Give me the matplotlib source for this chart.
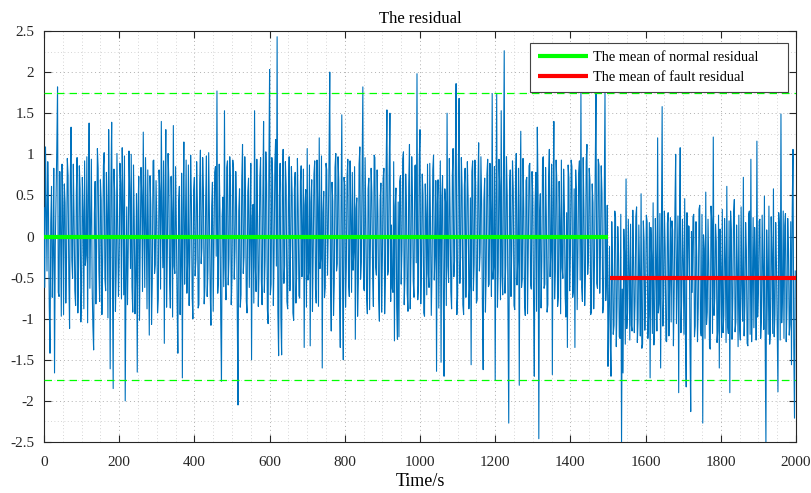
import numpy as np
import matplotlib
matplotlib.use("Agg")
import matplotlib.pyplot as plt
from matplotlib.ticker import MultipleLocator, FuncFormatter

# ---- data (one sample every 2 s) ----
residual = [
    0.35, -0.62, 1.09, 0.38, -0.42, 0.91, 0.28, -0.85, -1.42, 0.17, 0.61, -0.74, -0.18, 0.83, -1.66, -0.12, 0.47, 1.05, 1.82, -0.68, -0.73, 0.79, 0.12, -0.97, 0.88, 0.36, -0.95, 0.64, 0.41, -0.81, -0.26, 0.95, 0.74, -0.48, -1.12, 0.71, 1.33, -0.29, -0.51, 0.88, 0.22, -0.66, -0.84, 0.53, 0.96, -0.93, -0.37, 0.86, 0.58, -1.04,
    -0.64, 0.72, 0.31, -0.88, 0.92, -0.35, -0.23, 0.97, -1.05, 0.46, 1.38, -0.63, 0.15, 0.94, -0.58, -1.09, -1.38, 0.28, 0.67, -0.82, -0.12, 1.07, 0.83, -0.41, -0.79, 0.69, 0.44, -0.95, -0.31, 0.86, 1.02, -0.52, -0.66, 0.78, 0.25, -0.99, 1.3, 0.21, -1.61, 0.64, 1.39, -0.47, -1.85, 0.82, 0.53, -0.91, -0.44, 1.01, 0.19, -0.73,
    -0.28, 0.89, 0.64, -0.76, 1.08, 0.43, -0.71, 0.98, -2.0, -0.57, 0.36, -0.83, -0.15, 1.04, 0.58, -0.39, 1.0, -0.61, -0.92, 0.87, 0.21, -0.94, -0.47, 0.52, -1.65, 0.31, 0.73, -1.02, -0.08, 0.84, 0.49, -0.67, 1.27, 0.18, -0.62, 0.96, 0.14, -0.88, 0.81, -0.26, -1.2, 0.74, 0.38, -1.07, -0.55, 0.92, 0.93, -0.45, -0.34, 0.68,
    0.17, -0.93, -0.76, 0.81, 0.55, -0.64, 1.4, 0.27, -0.38, 0.92, -1.3, 0.48, 1.3, -0.86, -0.21, 1.01, 0.68, -0.54, -0.87, 0.73, 0.29, -0.98, 1.35, -0.36, -0.45, 0.85, 0.12, -0.79, -1.42, 0.42, 0.61, -0.95, -0.33, 0.77, -1.72, 0.39, 1.15, -0.58, 0.06, 0.93, -0.69, -0.31, 0.87, -0.84, -0.18, 0.99, 0.45, -0.72, -1.0, 0.56,
    0.72, -0.48, -0.27, 0.91, 0.39, -0.87, -0.83, 0.64, 1.05, -0.33, -0.14, 0.96, 0.57, -0.82, -0.61, 0.45, 0.98, -0.73, -0.42, 1.02, 0.24, -0.66, -1.08, 0.37, 0.66, -0.91, -0.09, 0.78, 0.85, -0.24, 1.77, -0.69, -0.54, 0.88, 0.31, -0.97, -1.76, 0.26, 0.48, -0.61, 1.53, -0.38, -0.77, 0.84, 0.92, -0.59, -0.26, 0.97, 0.63, -0.83,
    -0.49, 0.93, 0.84, -0.52, -0.16, 0.79, 0.37, -0.94, -2.05, 0.31, 0.58, -0.86, -0.71, 0.68, 1.12, -0.45, -0.24, 0.97, 0.46, -0.78, -0.93, 0.54, 0.71, -0.62, 0.05, 0.89, -1.5, 0.24, 0.39, -0.81, 1.53, -0.37, -0.67, 0.94, 0.22, -0.85, -0.41, 0.72, 0.96, -0.53, -0.83, 0.46, 1.4, -0.68, -0.29, 1.03, 0.64, -0.88, -1.06, 0.77,
    2.03, -0.71, -0.58, 0.96, 0.74, -0.84, -0.21, 0.88, 1.18, -0.36, 2.43, -0.92, -1.45, 0.47, 0.89, -0.98, -1.44, 0.63, 1.06, -0.57, -0.35, 0.91, 0.62, -0.79, -0.88, 0.43, 0.97, -0.66, -0.12, 0.85, 0.51, -0.93, -1.02, 0.58, 0.78, -0.81, -0.46, 0.95, 0.33, -0.72, -0.75, 0.67, 0.86, -0.49, 0.11, 0.82, -1.35, 0.38, 0.57, -0.86,
    1.07, -0.53, -0.44, 0.87, -1.33, 0.42, 0.69, -0.91, -0.18, 0.76, 0.92, -0.64, -0.81, 0.93, 0.36, -0.85, 1.2, -0.39, -0.27, 0.98, -1.6, 0.29, 0.55, -0.74, -0.62, 0.89, 0.81, -0.47, 0.07, 0.94, 2.0, -0.58, -1.15, 0.66, 0.43, -0.96, -0.57, 0.84, 1.01, -0.42, -0.33, 0.97, 0.68, -0.79, -1.35, 0.31, 1.48, -0.61, -1.5, 0.72,
    0.62, -0.86, -0.38, 0.73, 0.94, -0.57, -0.73, 0.92, 0.25, -0.68, 0.78, -0.41, -0.19, 0.85, -1.25, 0.34, 0.47, -0.97, -0.56, 0.88, 1.09, -0.52, -0.31, 0.79, 1.82, -0.63, -0.66, 0.96, 0.18, -0.74, -0.94, 0.58, 0.71, -0.89, -0.12, 0.83, 0.53, -0.46, -0.85, 0.99, 0.96, -0.37, -0.47, 0.81, 0.28, -0.76, -1.03, 0.44, 0.65, -0.92,
    -0.26, 0.71, 0.83, -0.94, -0.52, 0.88, 1.54, -0.47, -0.41, 0.82, 1.5, -0.79, 0.14, -0.63, -0.68, 0.91, -1.27, 0.37, 0.59, -0.86, -1.25, 0.42, -1.22, 0.67, 0.74, -0.58, -0.17, 0.94, 1.03, -0.83, -0.49, 0.76, 0.36, -0.69, -0.91, 0.62, 1.12, -0.88, -0.23, 0.97, 0.48, -0.54, -0.74, 0.86, 0.87, -0.32, 1.98, -0.77, -0.6, 0.93,
    1.3, -0.82, -0.35, 0.76, 0.51, -0.93, -0.97, 0.64, 0.27, -0.71, 0.88, -0.45, -0.62, 0.89, 0.15, -0.96, -0.43, 0.81, 0.99, -0.53, -0.21, 0.68, -1.64, 0.39, 0.69, -0.87, 0.08, 0.92, -1.53, 0.47, 0.74, -0.73, -1.7, 0.58, 0.42, -0.84, 1.5, -0.36, -0.56, 0.95, 0.31, -0.67, -0.88, 0.73, 1.07, -0.49, -0.29, 0.88, 1.86, -0.95,
    -0.72, 0.84, 1.68, -0.57, -0.24, 0.96, 0.57, -0.83, -0.95, 0.62, 0.83, -0.74, -0.08, 0.91, 0.46, -0.88, -0.61, 0.47, -1.56, 0.79, 0.92, -0.66, -0.34, 0.93, 0.63, -0.81, -0.77, 0.58, 1.14, -0.42, -0.19, 0.97, 0.38, -0.85, -1.62, 0.44, 0.71, -0.92, -0.46, 0.76, 0.94, -0.61, -0.58, 0.89, 0.26, -0.73, 1.74, -0.52, -0.37, 0.85,
    -1.75, 0.39, 1.74, -0.86, -0.43, 0.94, 0.62, -0.77, 1.53, -0.48, -0.71, 0.88, 2.26, -0.69, -0.35, 0.97, 0.49, -0.91, -2.27, 0.56, 0.81, -0.73, -0.16, 0.92, 0.57, -0.84, -0.89, 0.67, 1.01, -0.59, -0.28, 0.83, -1.81, 0.31, 1.28, -0.62, -0.52, 0.95, 0.34, -0.81, -0.96, 0.68, 0.72, -0.94, -0.13, 0.86, 0.89, -0.57, -0.64, 0.79,
    0.46, -0.78, -1.7, 0.36, 0.78, -0.91, 1.33, 0.54, -2.46, 0.28, 0.52, -0.87, -0.31, 0.95, 0.97, -0.63, -0.58, 0.84, 0.24, -0.92, -0.83, 0.72, 1.06, -0.49, -0.15, 0.88, -1.68, 0.41, 1.4, -0.76, -0.42, 0.93, 0.66, -0.85, -0.74, 0.67, 0.19, -0.94, 0.93, -0.38, -0.51, 0.82, 0.37, -0.71, -0.98, 0.29, -1.35, 0.87, 0.71, -0.66,
    -0.22, 0.93, 0.85, -0.74, -0.67, 0.58, -1.35, 0.81, 0.54, -0.89, -0.18, 0.77, 0.92, -0.53, 1.75, -0.62, -0.79, 0.96, 0.33, -0.84, -0.47, 0.91, 1.12, -0.46, -0.26, 0.83, 0.68, -0.95, -0.91, 0.64, 0.41, -0.88, -0.36, 0.79, 1.75, -0.57, -0.63, 0.94, 0.87, -0.69, -0.14, 0.86, 0.52, -0.93, -0.85, 0.45, 1.76, -0.78, -0.48, 0.38,
    -1.58, -0.91, -0.12, -1.27, -1.7, 0.18, -0.35, -1.19, -1.08, 0.31, 0.24, -1.34, -0.86, 0.12, -0.21, -1.22, -1.24, 0.27, -2.55, -0.64, -1.66, 0.09, -0.18, -1.31, 0.7, -1.12, -0.93, 0.21, -0.41, -1.26, 0.15, -1.08, -1.15, 0.32, -0.28, -1.17, -0.79, 0.24, 0.36, -1.29, -1.02, 0.14, -0.47, -1.21, 0.52, -1.36, -1.31, 0.19, -0.06, -1.14,
    -0.64, 0.26, 0.18, -1.24, -0.97, 0.17, -1.72, 0.11, -0.23, -1.18, 0.41, -1.32, -1.13, 0.22, -0.36, -1.15, 1.2, -0.93, -0.82, 0.28, -1.6, 0.04, 1.58, -1.09, -0.71, 0.31, -0.14, -1.27, -1.28, 0.16, 0.29, -1.21, -0.55, 0.23, -1.04, 0.19, 0.07, -1.33, -0.68, 0.34, 1.0, -1.06, -0.43, 0.25, -1.9, 0.08, 1.08, -1.17, -0.76, 0.21,
    -0.31, -1.19, 0.46, -1.26, -1.83, 0.29, -0.52, 0.13, 0.12, -1.31, -2.13, 0.06, -0.68, 0.24, 0.27, -1.22, -1.09, 0.18, -0.24, -1.28, -0.87, 0.33, 0.38, -1.14, -1.21, 0.27, -2.27, 0.02, -0.15, -1.24, 0.54, -1.07, -0.92, 0.21, -0.33, -1.35, -1.37, 0.37, 0.19, -1.18, 1.21, -0.96, -0.74, 0.15, -0.06, -1.29, -1.15, 0.26, -1.6, 0.09,
    -0.42, -1.23, 0.33, -1.17, -0.96, 0.22, -0.27, -1.29, 0.61, -1.08, -1.18, 0.19, -1.9, 0.31, 0.08, -1.25, -0.73, 0.28, 0.45, -1.16, -1.04, 0.14, -0.39, -1.34, 0.26, -1.12, -1.26, 0.36, -0.58, -1.03, 0.72, -1.21, -0.84, 0.17, -0.17, -1.3, -1.33, 0.27, 0.31, -1.19, 0.94, -1.28, -0.62, 0.23, -1.11, 0.11, -0.29, -1.26, 1.16, -0.98,
    -0.67, 0.19, 0.21, -1.24, -1.02, 0.26, -0.38, -1.13, 0.49, -1.27, -2.55, 0.08, -0.44, -1.19, 0.37, -1.31, -1.16, 0.24, -0.21, -1.18, 0.58, -1.22, -0.95, 0.17, -0.33, -1.14, -1.89, 0.29, 0.12, -1.26, 1.49, -1.05, -0.71, 0.31, -1.24, 0.13, 0.28, -1.28, -0.86, 0.22, -0.15, -1.2, -1.07, 0.18, -1.56, 0.34, 1.06, -1.3, -2.21, -0.42,
]
sample_step = 2.0
time = np.arange(len(residual)) * sample_step

normal_mean = 0.0
normal_span = [0, 1500]
fault_mean = -0.5
fault_span = [1505, 2000]
threshold = 1.75

x_ticks = [0, 200, 400, 600, 800, 1000, 1200, 1400, 1600, 1800, 2000]
y_ticks = [-2.5, -2, -1.5, -1, -0.5, 0, 0.5, 1, 1.5, 2, 2.5]

# ---- figure ----
plt.rcParams['font.family'] = ['Liberation Serif', 'DejaVu Serif']
fig = plt.figure(figsize=(8.11, 4.93), dpi=100)
ax = fig.add_axes([44 / 811, 1 - 442 / 493, 752 / 811, 411 / 493])

ax.plot(time, residual, color='#0072BD', lw=0.8, zorder=3)
ax.axhline(threshold, color='#00FF00', lw=0.9, ls=(0, (6, 4)), zorder=4)
ax.axhline(-threshold, color='#00FF00', lw=0.9, ls=(0, (6, 4)), zorder=4)
ax.plot(normal_span, [normal_mean, normal_mean], color='#00FF00', lw=3,
        label='The mean of normal residual', zorder=5, solid_capstyle='butt')
ax.plot(fault_span, [fault_mean, fault_mean], color='#FF0000', lw=3,
        label='The mean of fault residual', zorder=5, solid_capstyle='butt')

ax.set_xlim(0, 2000)
ax.set_ylim(-2.5, 2.5)
ax.set_xticks(x_ticks)
ax.set_yticks(y_ticks)
ax.xaxis.set_minor_locator(MultipleLocator(50))
ax.yaxis.set_minor_locator(MultipleLocator(0.25))
ax.yaxis.set_major_formatter(FuncFormatter(lambda v, p: ('%g' % v)))
ax.xaxis.set_major_formatter(FuncFormatter(lambda v, p: ('%g' % v)))

ax.tick_params(which='both', direction='in', top=True, right=True)
ax.tick_params(which='major', length=5, width=0.8, labelsize=11, colors='#262626')
ax.tick_params(axis='x', which='major', pad=10)
ax.tick_params(axis='y', which='major', pad=7)
ax.tick_params(which='minor', length=0)
ax.grid(which='major', color='#b0b0b0', ls=(0, (1, 3)), lw=0.7)
ax.grid(which='minor', color='#c8c8c8', ls=(0, (1, 3)), lw=0.6)
ax.set_axisbelow(True)
for s in ax.spines.values():
    s.set_color('#262626')
    s.set_linewidth(0.8)

ax.set_title('The residual', fontsize=12, color='#000000', pad=6)
ax.set_xlabel('Time/s', fontsize=13, labelpad=3)

leg = ax.legend(loc='upper left', bbox_to_anchor=(0.646, 0.5, 0.343, 0.471),
                mode='expand', borderaxespad=0,
                fontsize=10.4, fancybox=False, framealpha=1, edgecolor='#444444',
                handlelength=3.5, handletextpad=0.35, borderpad=0.55, labelspacing=0.45)
leg.get_frame().set_linewidth(0.8)

fig.savefig('out.png', dpi=100)
